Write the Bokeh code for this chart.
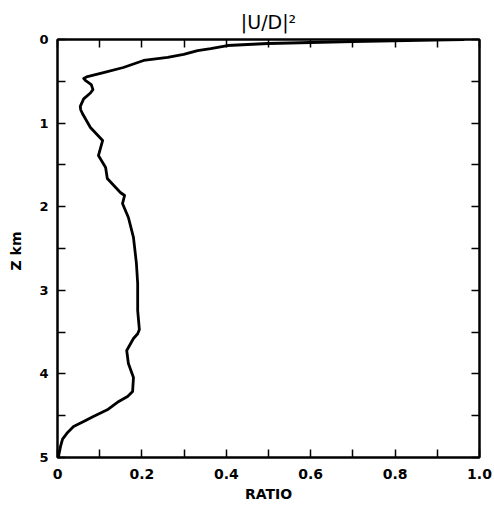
from bokeh.plotting import figure
from bokeh.models import Range1d, LinearAxis, FixedTicker, CustomJSTickFormatter
from bokeh.embed import file_html
from bokeh.resources import INLINE

# data: ratio vs depth (km)
ratio = [0.962, 0.891, 0.701, 0.600, 0.498, 0.403, 0.363, 0.332, 0.299, 0.261,
         0.204, 0.156, 0.109, 0.071, 0.062, 0.066, 0.080, 0.084, 0.078, 0.062,
         0.054, 0.055, 0.059, 0.078, 0.107, 0.097, 0.114, 0.118, 0.149, 0.159,
         0.154, 0.168, 0.180, 0.187, 0.190, 0.190, 0.194, 0.190, 0.180, 0.164,
         0.168, 0.180, 0.178, 0.166, 0.142, 0.118, 0.085, 0.062, 0.038, 0.024,
         0.012, 0.007, 0.002]
z_km = [0.000, 0.006, 0.024, 0.036, 0.048, 0.072, 0.108, 0.132, 0.179, 0.215,
        0.251, 0.335, 0.395, 0.443, 0.466, 0.490, 0.540, 0.600, 0.640, 0.710,
        0.800, 0.840, 0.885, 1.053, 1.208, 1.388, 1.531, 1.663, 1.830, 1.866,
        1.962, 2.129, 2.368, 2.679, 2.919, 3.242, 3.470, 3.520, 3.577, 3.720,
        3.876, 4.043, 4.210, 4.270, 4.340, 4.430, 4.510, 4.570, 4.630, 4.700,
        4.780, 4.870, 5.000]

x_major = [0, 0.2, 0.4, 0.6, 0.8, 1.0]
x_minor = [0.1, 0.3, 0.5, 0.7, 0.9]
y_major = [0, 1, 2, 3, 4, 5]
y_minor = [0.5, 1.5, 2.5, 3.5, 4.5]

FONT = "DejaVu Sans"

p = figure(width=494, height=508, output_backend="svg", toolbar_location=None,
           x_range=Range1d(0, 1), y_range=Range1d(5, 0),
           min_border_left=57, min_border_right=15, min_border_top=39,
           min_border_bottom=51, x_axis_location="below", y_axis_location="left")
p.title.text = "|U/D|²"
p.title.align = "center"
p.title.text_font = FONT
p.title.text_font_size = "19px"
p.title.text_font_style = "normal"
p.title.text_color = "black"
p.title.offset = 2
p.title.standoff = 13
p.xgrid.visible = False
p.ygrid.visible = False
p.outline_line_color = "black"
p.outline_line_width = 2
p.background_fill_color = "white"
p.border_fill_color = "white"

fmt_y = CustomJSTickFormatter(code="return tick.toFixed(0)")
fmt_x = CustomJSTickFormatter(code="return tick == 0 ? '0' : tick.toFixed(1)")

def style(ax):
    ax.axis_line_color = "black"
    ax.axis_line_width = 2
    ax.major_tick_in = 8
    ax.major_tick_out = 0
    ax.minor_tick_in = 8
    ax.minor_tick_out = 0
    ax.major_tick_line_width = 1.5
    ax.minor_tick_line_width = 1.5
    ax.major_tick_line_color = "black"
    ax.minor_tick_line_color = "black"
    ax.major_label_text_color = "black"
    ax.axis_label_text_color = "black"

xa = p.xaxis[0]
xa.ticker = FixedTicker(ticks=x_major, minor_ticks=x_minor)
xa.formatter = fmt_x
xa.axis_label = "RATIO"
style(xa)
xa.major_label_text_font = FONT
xa.major_label_text_font_size = "14px"
xa.major_label_text_font_style = "bold"
xa.major_label_standoff = 11
xa.axis_label_text_font = FONT
xa.axis_label_text_font_size = "14px"
xa.axis_label_text_font_style = "bold"
xa.axis_label_standoff = 4

ya = p.yaxis[0]
ya.ticker = FixedTicker(ticks=y_major, minor_ticks=y_minor)
ya.formatter = fmt_y
ya.axis_label = "Z  km"
style(ya)
ya.major_label_text_font = FONT
ya.major_label_text_font_size = "13px"
ya.major_label_text_font_style = "bold"
ya.major_label_standoff = 9
ya.axis_label_text_font = FONT
ya.axis_label_text_font_size = "14px"
ya.axis_label_text_font_style = "bold"
ya.axis_label_standoff = 12

top = LinearAxis(ticker=FixedTicker(ticks=[], minor_ticks=x_major + x_minor),
                 major_label_standoff=0, axis_label_standoff=0)
style(top)
p.add_layout(top, "above")
right = LinearAxis(ticker=FixedTicker(ticks=[], minor_ticks=y_major + y_minor),
                   major_label_standoff=0, axis_label_standoff=0)
style(right)
p.add_layout(right, "right")

p.line(ratio, z_km, line_color="black", line_width=2.8, line_join="round", line_cap="round")

open("out.html", "w").write(file_html(p, INLINE))
